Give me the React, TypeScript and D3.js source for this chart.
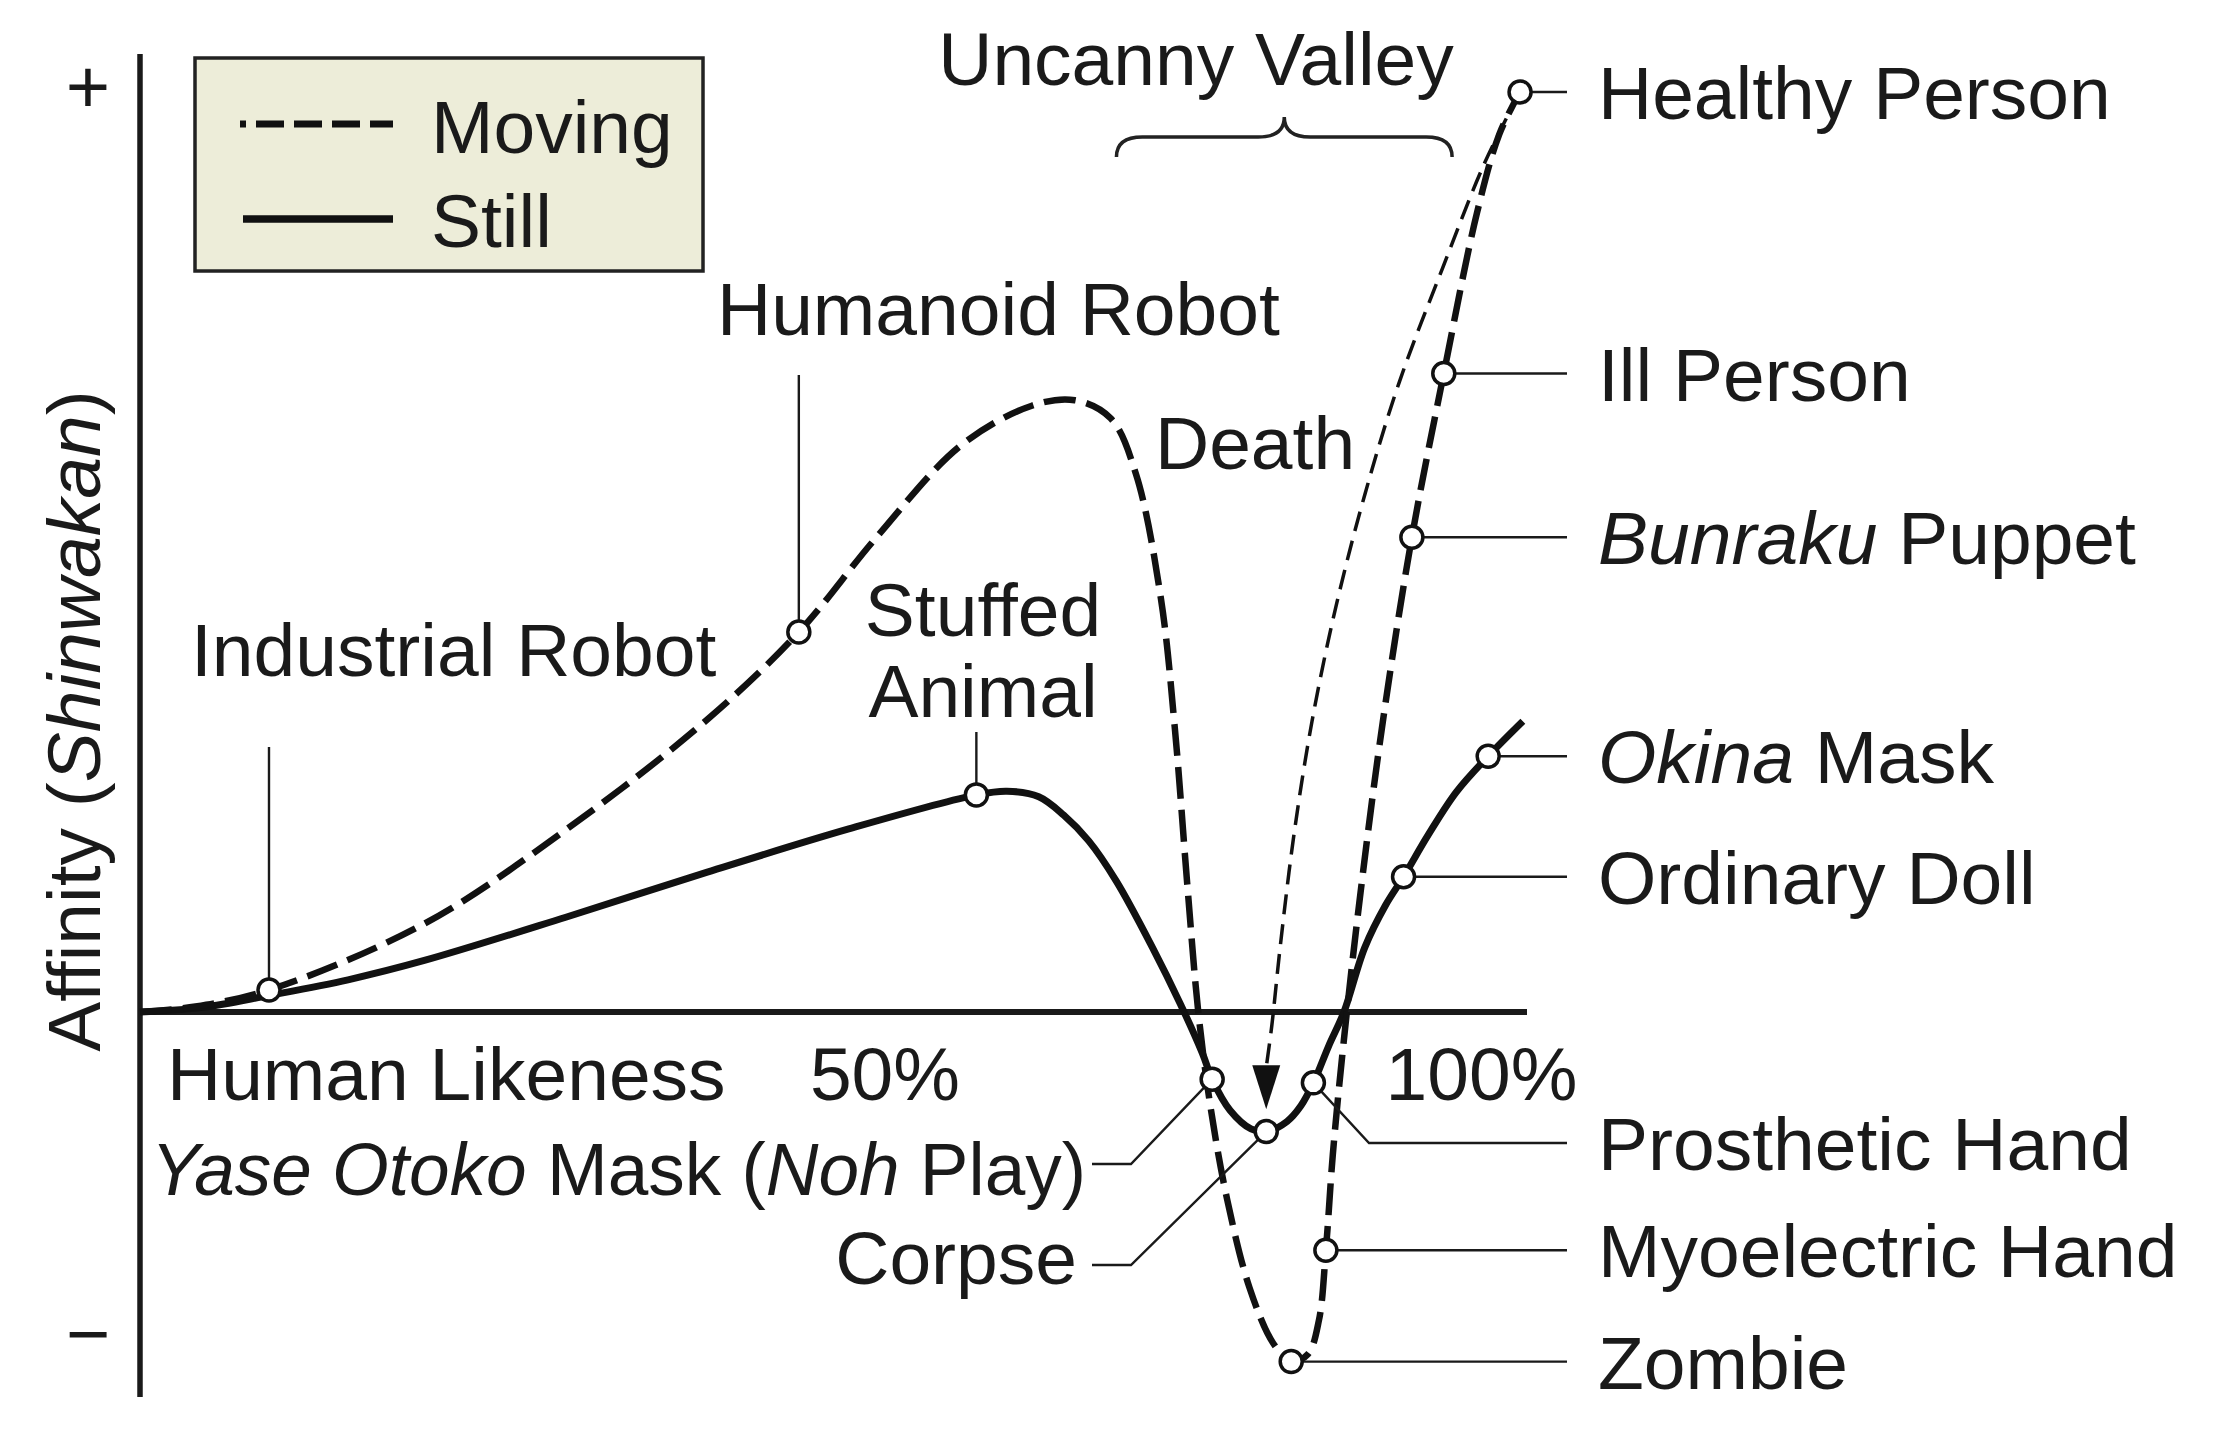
import React, { useEffect } from 'react';
import * as d3 from 'd3';

const W = 2217;
const H = 1450;

// human likeness (%) , affinity (arbitrary units, healthy person = 100)
const movingCurve: [number, number][] = [
  [0, 0], [4, 0.6], [9.3, 2.4], [20.5, 9.6], [30.7, 19.8], [40.9, 31.8], [47.5, 41.3],
  [53.1, 51.6], [59.2, 61.6], [64.3, 65.9], [67.4, 66.5], [70.0, 64.5], [71.8, 58.5],
  [73.6, 45.0], [74.6, 31.0], [75.5, 14.0], [76.3, 0.0], [77.2, -10.5], [78.4, -20.5],
  [80.0, -30.0], [81.7, -36.0], [83.0, -38.0], [84.2, -37.2], [85.0, -33.5], [85.5, -25.9],
  [86.0, -15.5], [86.8, -3.0], [88.0, 13.0], [89.6, 31.5], [91.7, 51.6], [94.0, 69.4],
  [96.4, 86.9], [98.0, 95.4], [99.5, 100],
];

const stillCurve: [number, number][] = [
  [0, 0], [4.5, 0.5], [9.3, 1.8], [15, 3.5], [20.5, 5.6], [30.7, 10.3], [40.9, 15.2],
  [51.1, 19.9], [60.3, 23.6], [62.5, 24.0], [64.8, 23.4], [66.6, 21.4], [68.4, 18.6],
  [70.4, 14.2], [73.0, 7.0], [75.0, 0.9], [76.6, -4.5], [77.3, -7.3], [78.6, -10.7], [80.1, -12.7],
  [81.2, -13.0], [82.7, -11.9], [83.7, -10.2], [84.6, -7.7], [85.7, -3.7], [86.8, 0],
  [88.3, 7.0], [89.8, 11.6], [91.1, 14.7], [92.9, 19.3], [94.9, 23.9], [97.2, 27.8], [99.7, 31.6],
];

// healthy person -> corpse
const deathPath: [number, number][] = [
  [99.5, 100], [96.95, 92.3], [93.9, 80.8], [90.8, 68.5], [88.3, 56.2], [86.2, 43.9],
  [84.5, 31.6], [83.2, 19.3], [82.2, 7.0], [81.6, -1.5], [81.2, -6.0],
];

const pointNames = [
  'Industrial Robot', 'Humanoid Robot', 'Stuffed Animal', 'Healthy Person', 'Ill Person',
  'Bunraku Puppet', 'Okina Mask', 'Ordinary Doll', 'Prosthetic Hand', 'Yase Otoko Mask',
  'Corpse', 'Myoelectric Hand', 'Zombie',
];
const pointX = [9.3, 47.5, 60.3, 99.5, 94.0, 91.7, 97.2, 91.1, 84.6, 77.3, 81.2, 85.5, 83.0];
const pointY = [2.4, 41.3, 23.6, 100, 69.4, 51.6, 27.8, 14.7, -7.7, -7.3, -13.0, -25.9, -38.0];

const xTickLabels = ['50%', '100%'];
const xTickValues = [48.3, 89.8];
const yTickLabels = ['+', '\u2212'];
const yTickValues = [100.3, -35.2];

const FONT = '"Liberation Sans", Arial, Helvetica, sans-serif';
const FS = 75;

export default function App() {
  useEffect(() => {
    document.body.style.margin = '0';
  }, []);

  const x = d3.scaleLinear().domain([0, 100]).range([140, 1527]);
  const y = d3.scaleLinear().domain([0, 100]).range([1012, 92]);

  const line = d3
    .line<[number, number]>()
    .x((d) => x(d[0]))
    .y((d) => y(d[1]))
    .curve(d3.curveCatmullRom.alpha(0.5));

  const pts = pointNames.map((n, i) => ({ name: n, px: x(pointX[i]), py: y(pointY[i]) }));
  const P = (n: string) => pts.find((p) => p.name === n)!;

  const rightX = 1598;
  const leaderEnd = 1567;
  const rightLabels = ['Healthy Person', 'Ill Person', 'Bunraku Puppet', 'Okina Mask', 'Ordinary Doll', 'Myoelectric Hand', 'Zombie'];

  const brace = (x0: number, x1: number, xm: number, yb: number) => {
    const h = 20;
    const r = 26;
    return `M${x0},${yb + h} Q${x0},${yb} ${x0 + r},${yb} L${xm - r},${yb} Q${xm},${yb} ${xm},${yb - h} Q${xm},${yb} ${xm + r},${yb} L${x1 - r},${yb} Q${x1},${yb} ${x1},${yb + h}`;
  };

  const deathEnd = deathPath[deathPath.length - 1];
  const ax = x(deathEnd[0]);
  const ay = y(deathEnd[1]);
  const corpse = P('Corpse');
  const prost = P('Prosthetic Hand');
  const yase = P('Yase Otoko Mask');

  const italicLabel = (n: string) => {
    if (n === 'Bunraku Puppet') return (<><tspan fontStyle="italic">Bunraku</tspan> Puppet</>);
    if (n === 'Okina Mask') return (<><tspan fontStyle="italic">Okina</tspan> Mask</>);
    return n;
  };

  return (
    <svg width={W} height={H} style={{ display: 'block', background: '#fff' }} fontFamily={FONT}>
      {/* axes */}
      <line x1={140} y1={54} x2={140} y2={1397} stroke="#1a1a1a" strokeWidth={5.5} />
      <line x1={140} y1={y(0)} x2={x(100)} y2={y(0)} stroke="#1a1a1a" strokeWidth={6} />
      {yTickLabels.map((t, i) => (
        <text key={t} x={88} y={y(yTickValues[i]) + 24} fontSize={76} textAnchor="middle" fill="#1a1a1a">{t}</text>
      ))}
      <text transform={`translate(100,721) rotate(-90)`} fontSize={FS} textAnchor="middle" fill="#1a1a1a">
        Affinity (<tspan fontStyle="italic">Shinwakan</tspan>)
      </text>
      <text x={167} y={1100} fontSize={FS} fill="#1a1a1a">Human Likeness</text>
      {xTickLabels.map((t, i) => (
        <text key={t} x={x(xTickValues[i])} y={1100} fontSize={FS} fill="#1a1a1a">{t}</text>
      ))}

      {/* curves */}
      <path d={line(stillCurve) || ''} fill="none" stroke="#111" strokeWidth={7} />
      <path d={line(movingCurve) || ''} fill="none" stroke="#111" strokeWidth={6.5} strokeDasharray="32 11" />
      <path d={line(deathPath) || ''} fill="none" stroke="#111" strokeWidth={3.5} strokeDasharray="20 10" />
      <path d={`M${ax},${ay + 42} L${ax - 14},${ay - 2} L${ax + 14},${ay - 2} Z`} fill="#111" />

      {/* uncanny valley brace */}
      <text x={1196} y={85} fontSize={FS} textAnchor="middle" fill="#1a1a1a">Uncanny Valley</text>
      <path d={brace(x(70.4), x(94.6), x(82.5), 137)} fill="none" stroke="#222" strokeWidth={3.5} />

      {/* leaders */}
      <g stroke="#1a1a1a" strokeWidth={2.4} fill="none">
        {rightLabels.map((n) => {
          const p = P(n);
          return <line key={n} x1={p.px} y1={p.py} x2={leaderEnd} y2={p.py} />;
        })}
        <polyline points={`${prost.px},${prost.py} ${1369},${1143} ${leaderEnd},${1143}`} />
        <polyline points={`${1092},${1164} ${1131},${1164} ${yase.px},${yase.py}`} />
        <polyline points={`${1092},${1265} ${1131},${1265} ${corpse.px},${corpse.py}`} />
        <line x1={P('Industrial Robot').px} y1={747} x2={P('Industrial Robot').px} y2={P('Industrial Robot').py} />
        <line x1={P('Humanoid Robot').px} y1={375} x2={P('Humanoid Robot').px} y2={P('Humanoid Robot').py} />
        <line x1={P('Stuffed Animal').px} y1={732} x2={P('Stuffed Animal').px} y2={P('Stuffed Animal').py} />
      </g>

      {/* markers */}
      {pts.map((p) => (
        <circle key={p.name} cx={p.px} cy={p.py} r={11} fill="#fff" stroke="#111" strokeWidth={3.5} />
      ))}

      {/* labels */}
      <g fontSize={FS} fill="#1a1a1a">
        {rightLabels.map((n) => (
          <text key={n} x={rightX} y={P(n).py + 27}>{italicLabel(n)}</text>
        ))}
        <text x={rightX} y={1170}>Prosthetic Hand</text>
        <text x={717} y={335}>Humanoid Robot</text>
        <text x={1155} y={469}>Death</text>
        <text x={191} y={676}>Industrial Robot</text>
        <text x={983} y={636} textAnchor="middle">Stuffed</text>
        <text x={983} y={717} textAnchor="middle">Animal</text>
        <text x={1086} y={1195} textAnchor="end" textLength={935} lengthAdjust="spacingAndGlyphs">
          <tspan fontStyle="italic">Yase Otoko</tspan> Mask (<tspan fontStyle="italic">Noh</tspan> Play)
        </text>
        <text x={1077} y={1284} textAnchor="end">Corpse</text>
      </g>

      {/* legend */}
      <rect x={195} y={58} width={508} height={213} fill="#ededd9" stroke="#222" strokeWidth={3.5} />
      <line x1={240} y1={124} x2={246} y2={124} stroke="#111" strokeWidth={7} />
      <line x1={256} y1={124} x2={393} y2={124} stroke="#111" strokeWidth={7} strokeDasharray="28 10" />
      <line x1={243} y1={219} x2={393} y2={219} stroke="#111" strokeWidth={7.5} />
      <text x={431} y={153} fontSize={FS} fill="#1a1a1a">Moving</text>
      <text x={431} y={247} fontSize={FS} fill="#1a1a1a">Still</text>
    </svg>
  );
}
